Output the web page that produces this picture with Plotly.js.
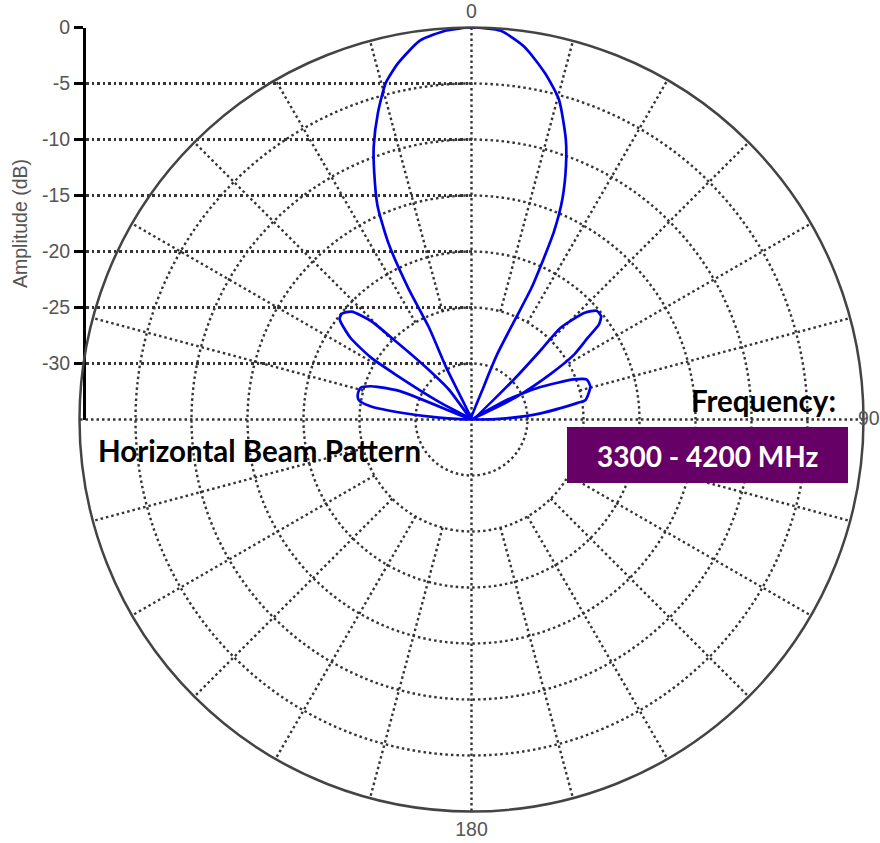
<!DOCTYPE html>
<html>
<head>
<meta charset="utf-8">
<script src="https://cdn.plot.ly/plotly-3.0.1.min.js"></script>
<style>
  html, body { margin: 0; padding: 0; background: #fff; }
  #chart { width: 880px; height: 843px; }
</style>
</head>
<body>
<div id="chart"></div>
<script>
// ---- data ----
// Beam outline: angle (deg, clockwise from 0 at top) and amplitude (dB)
const patternTheta = [
  -90, -86.8, -84.7, -82.5, -80.3, -77.5, -74.0, -71.8, -70.9, -68.3, -64,
  -61.5, -59.3, -58.3, -55.9, -52.7, -50.8, -48.0, -45.6, -44.4, -41.6, -37.0, -32,
  -25.9, -24.8, -25.7, -25.2, -23.7, -21.5, -19.7, -17.0, -14.3, -11.6, -7.7, -3.7, 0,
  4.3, 8.1, 12.0, 15.3, 18.6, 20.4, 22.4, 23.7, 24.1, 24.5, 23.5, 21.5, 20.4, 33,
  46.7, 45.0, 44.2, 46.7, 49.0, 51.4, 53.3, 54.9, 57.6, 60.0, 63.3, 62,
  61.0, 64.8, 68.6, 70.9, 74.7, 80.4, 81.1, 84.9, 88.0, 90
];
const patternDb = [
  -35, -32.1, -29.0, -25.9, -24.8, -24.6, -24.7, -25.5, -26.1, -28.2, -35,
  -31.7, -27.0, -24.4, -21.9, -20.2, -20.05, -20.6, -22.4, -24.75, -28.35, -31.7, -35,
  -29.8, -25.95, -22.0, -17.5, -14.1, -11.3, -9.1, -6.4, -4.0, -2.5, -0.85, -0.2, 0,
  -0.2, -1.4, -3.4, -5.4, -8.6, -10.8, -13.7, -16.7, -18.9, -22.1, -25.4, -28.7, -31.9, -35,
  -29.9, -26.3, -23.55, -21.1, -20.2, -20.2, -20.8, -22.3, -24.1, -26.8, -30.5, -35,
  -31.45, -28.2, -25.2, -24.1, -24.0, -24.7, -25.4, -28.8, -31.9, -35
];

// axis / grid values
const radialRange = [-35, 0];
const radialTicks = [-30, -25, -20, -15, -10, -5, 0];
const radialTickText = ['-30', '-25', '-20', '-15', '-10', '-5', '0'];
const angularTickVals = [0, 180];
const angularTickText = ['0', '180'];
const sideAngleLabel = '90';
const diameterAngles = [0, 90];            // full lines through the centre
const spokeAngles = [15, 30, 45, 60, 75, 105, 120, 135, 150, 165,
                     195, 210, 225, 240, 255, 285, 300, 315, 330, 345];
const spokeStartDb = -25;

// ---- styling / geometry ----
const W = 880, H = 843;
const CX = 471.5, CY = 419.5, R = 392, AXIS_X = 86;
const GRID = '#353535';
const DOT = '2.5px,3px';
const GW = 2.4;
const tickFont = { family: 'Liberation Sans, Arial, sans-serif', size: 19.5, color: '#555' };
const boldFont = 'Lato, "Open Sans", sans-serif';

// build grid traces from the value arrays
const spokeTheta = [], spokeR = [];
spokeAngles.forEach(a => { spokeTheta.push(a, a, null); spokeR.push(spokeStartDb, radialRange[1], null); });
const diaTheta = [], diaR = [];
diameterAngles.forEach(a => { diaTheta.push(a, a + 180, null); diaR.push(radialRange[1], radialRange[1], null); });

const traces = [
  { type: 'scatter', x: [], y: [], xaxis: 'x', yaxis: 'y', showlegend: false, hoverinfo: 'skip' },
  { type: 'scatterpolar', theta: spokeTheta, r: spokeR, mode: 'lines', connectgaps: false,
    line: { color: GRID, width: GW, dash: DOT }, hoverinfo: 'skip', showlegend: false },
  { type: 'scatterpolar', theta: diaTheta, r: diaR, mode: 'lines', connectgaps: false,
    line: { color: GRID, width: GW, dash: DOT }, hoverinfo: 'skip', showlegend: false },
  { type: 'scatterpolar', theta: patternTheta, r: patternDb, mode: 'lines',
    line: { color: '#0000e6', width: 2.7, shape: 'spline', smoothing: 0.6 },
    showlegend: false, name: 'Horizontal' }
];

const layout = {
  width: W, height: H,
  margin: { l: 0, r: 0, t: 0, b: 0 },
  paper_bgcolor: '#fff', plot_bgcolor: 'rgba(0,0,0,0)',
  showlegend: false,
  polar: {
    domain: { x: [(CX - R) / W, (CX + R) / W], y: [(H - CY - R) / H, (H - CY + R) / H] },
    bgcolor: 'rgba(0,0,0,0)',
    radialaxis: {
      range: radialRange, tickvals: radialTicks, showticklabels: false, ticks: '',
      showline: false, showgrid: true, gridcolor: GRID, gridwidth: GW, griddash: DOT
    },
    angularaxis: {
      rotation: 90, direction: 'clockwise',
      tickvals: angularTickVals, ticktext: angularTickText, ticks: '',
      showgrid: false, showline: true, linecolor: '#444', linewidth: 2.5,
      tickfont: tickFont
    }
  },
  xaxis: {
    domain: [AXIS_X / W, CX / W], range: [0, 1],
    showgrid: false, zeroline: false, showticklabels: false, showline: false, ticks: '', fixedrange: true
  },
  yaxis: {
    domain: [(H - CY) / H, (H - CY + R) / H], range: radialRange,
    tickvals: radialTicks, ticktext: radialTickText,
    showline: true, linecolor: '#000', linewidth: 3,
    ticks: 'outside', ticklen: 9, tickwidth: 2.5, tickcolor: '#000',
    tickfont: tickFont,
    showgrid: true, gridcolor: GRID, gridwidth: GW, griddash: DOT, zeroline: false,
    title: { text: 'Amplitude (dB)', font: { family: tickFont.family, size: 19.5, color: '#555' }, standoff: 10 },
    fixedrange: true
  },
  shapes: [
    { type: 'rect', xref: 'paper', yref: 'paper', layer: 'above',
      x0: 567 / W, x1: 848 / W, y0: (H - 483) / H, y1: (H - 427) / H,
      fillcolor: '#660066', line: { width: 0 } }
  ],
  annotations: [
    { text: sideAngleLabel, xref: 'paper', yref: 'paper',
      x: 856 / W, y: (H - 418) / H, xanchor: 'left', yanchor: 'middle', showarrow: false,
      font: tickFont },
    { text: '<b>Horizontal Beam Pattern</b>', xref: 'paper', yref: 'paper',
      x: 96 / W, y: (H - 451) / H, xanchor: 'left', yanchor: 'middle', showarrow: false,
      font: { family: boldFont, size: 29.5, color: '#000' } },
    { text: '<b>Frequency:</b>', xref: 'paper', yref: 'paper',
      x: 838 / W, y: (H - 400) / H, xanchor: 'right', yanchor: 'middle', showarrow: false,
      font: { family: boldFont, size: 29.5, color: '#000' } },
    { text: '<b>3300 - 4200 MHz</b>', xref: 'paper', yref: 'paper',
      x: 708 / W, y: (H - 456) / H, xanchor: 'center', yanchor: 'middle', showarrow: false,
      font: { family: boldFont, size: 28, color: '#fff' } }
  ]
};

Plotly.newPlot('chart', traces, layout, { staticPlot: true, displayModeBar: false });
</script>
</body>
</html>
